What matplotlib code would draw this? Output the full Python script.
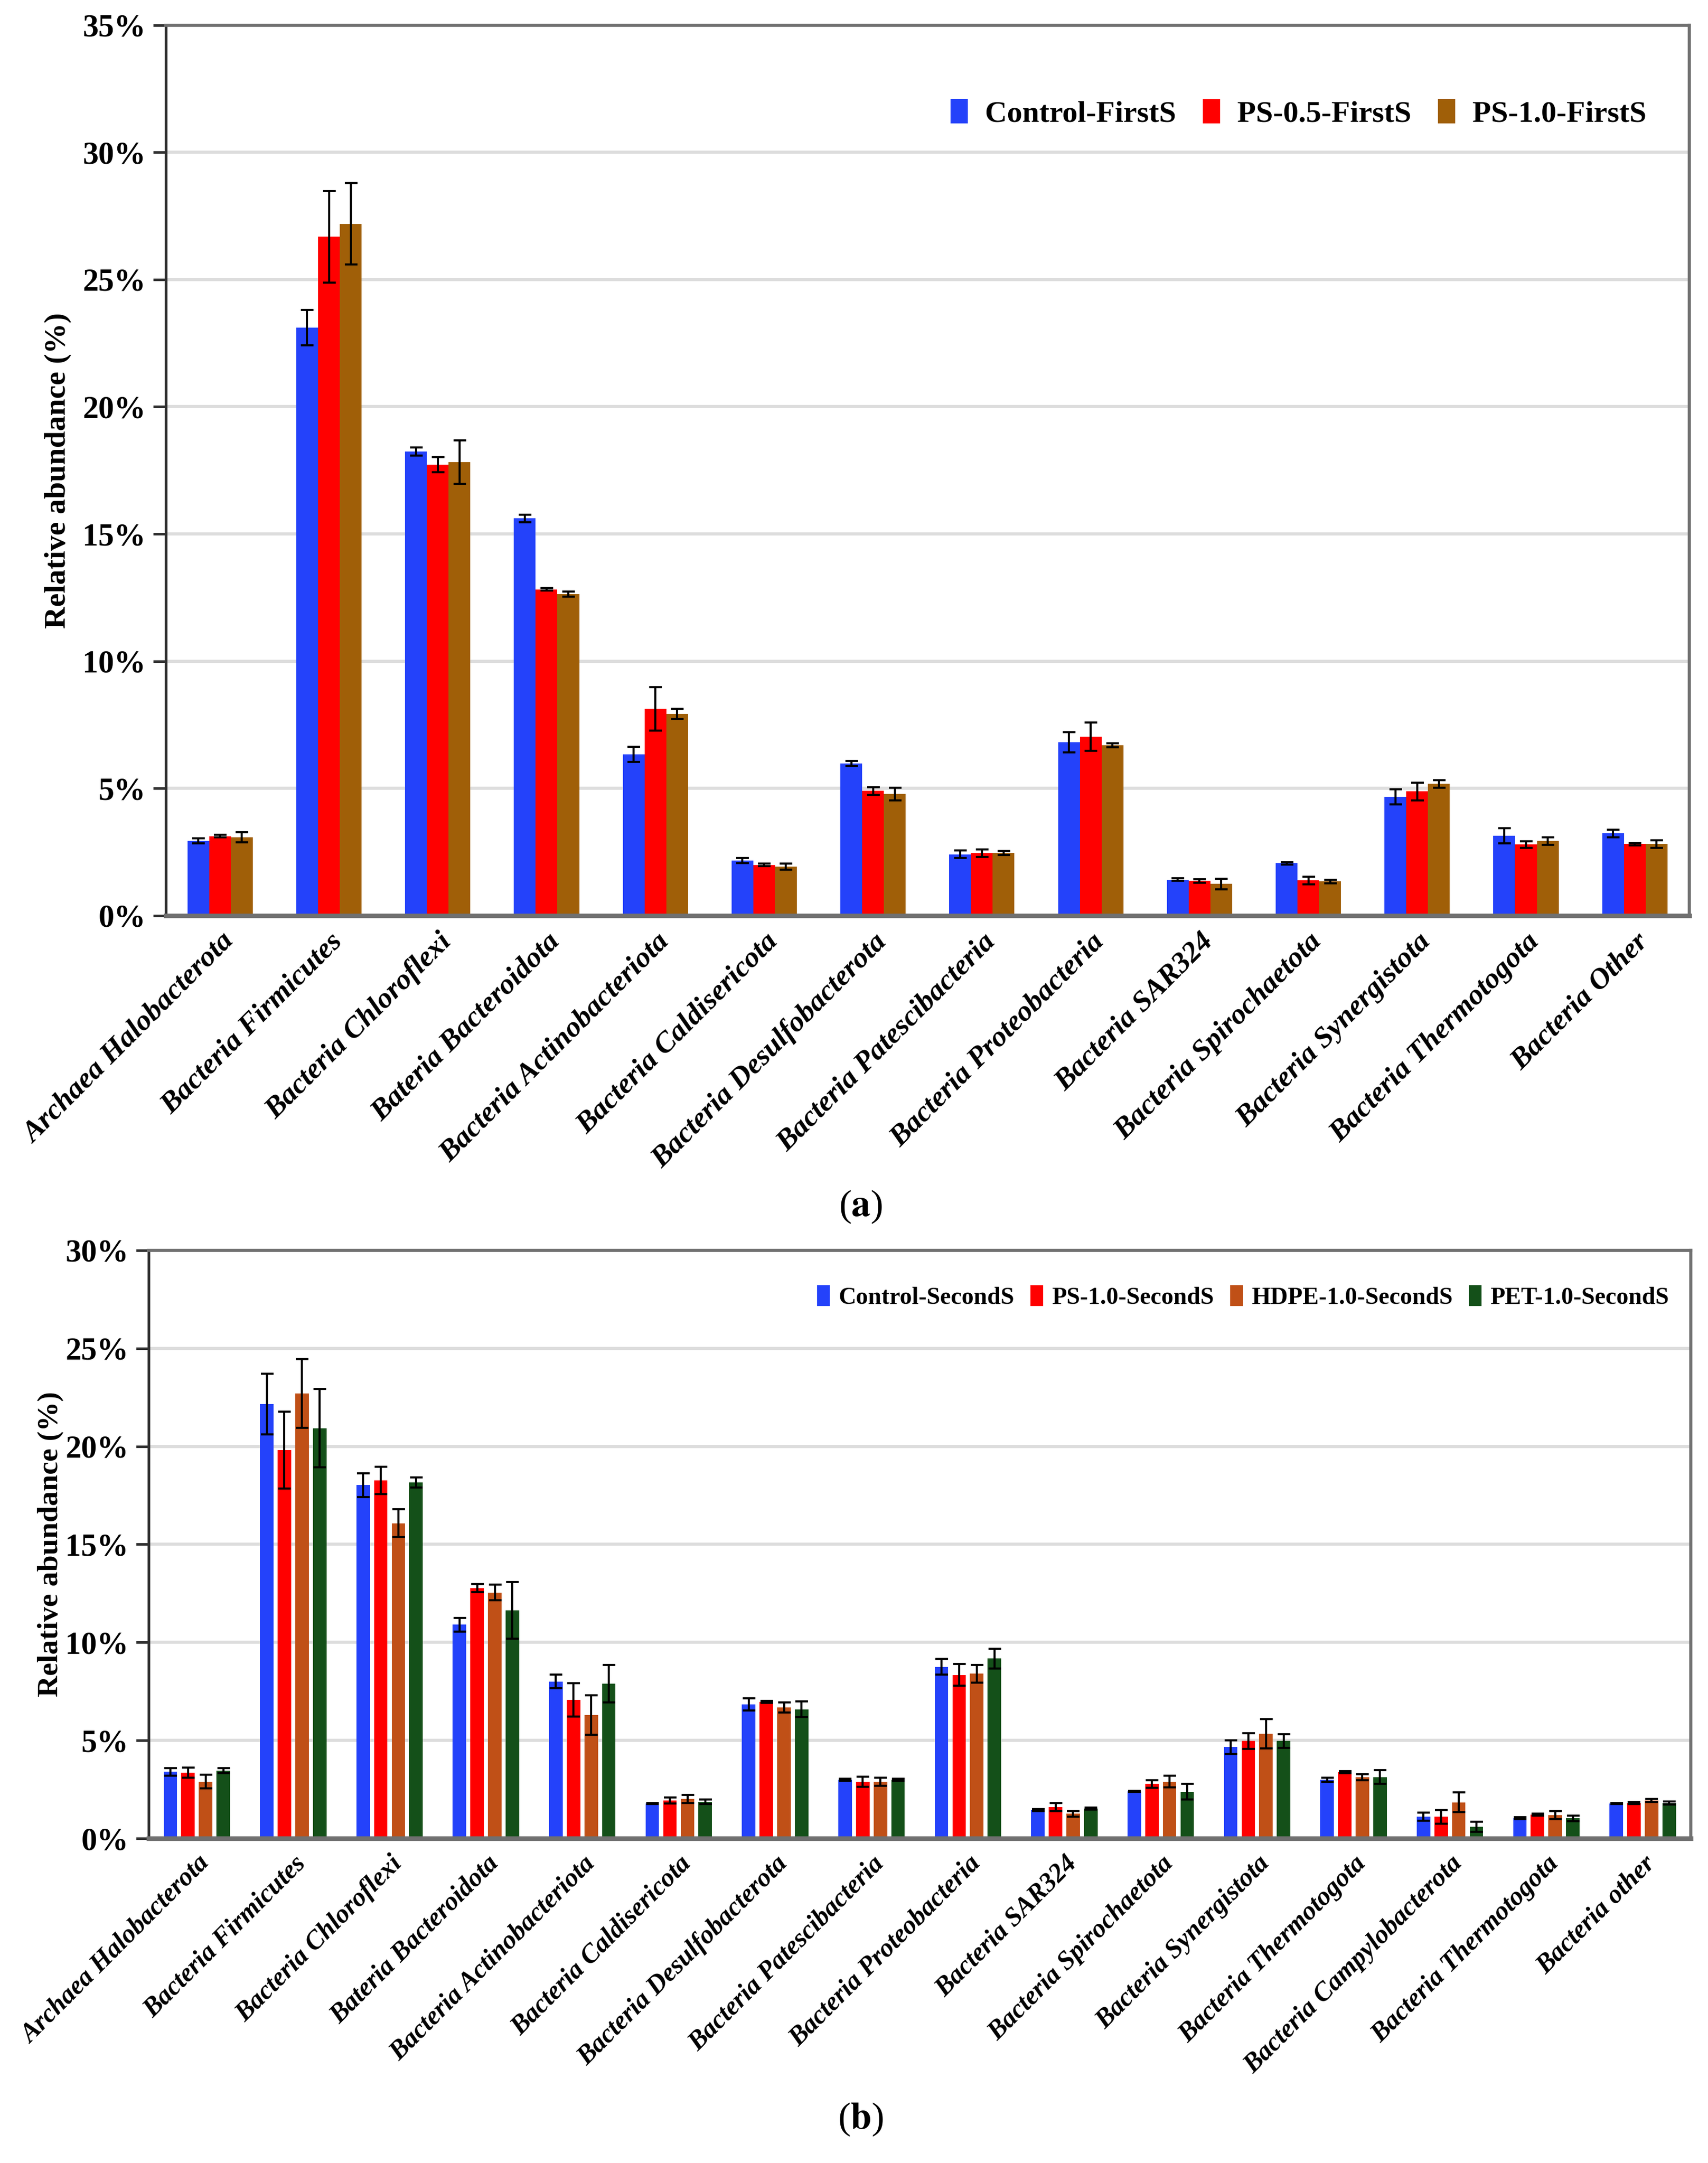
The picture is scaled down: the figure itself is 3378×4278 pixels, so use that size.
import matplotlib
matplotlib.use("Agg")
import matplotlib.pyplot as plt
import numpy as np
from matplotlib.ticker import PercentFormatter
from matplotlib.patches import Patch

FONT = 'Liberation Serif'
plt.rcParams['font.family'] = 'serif'
plt.rcParams['font.serif'] = [FONT, 'DejaVu Serif']
plt.rcParams['mathtext.fontset'] = 'stix'

# ---- panel (a) data ----
cats_a = ['Archaea Halobacterota', 'Bacteria Firmicutes', 'Bacteria Chloroflexi',
          'Bateria Bacteroidota', 'Bacteria Actinobacteriota', 'Bacteria Caldisericota',
          'Bacteria Desulfobacterota', 'Bacteria Patescibacteria', 'Bacteria Proteobacteria',
          'Bacteria SAR324', 'Bacteria Spirochaetota', 'Bacteria Synergistota',
          'Bacteria Thermotogota', 'Bacteria Other']
series_a = ['Control-FirstS', 'PS-0.5-FirstS', 'PS-1.0-FirstS']
control_first = [2.93, 23.11, 18.24, 15.61, 6.33, 2.16, 5.98, 2.41, 6.82, 1.41, 2.06, 4.66, 3.14, 3.23]
ps05_first = [3.12, 26.68, 17.72, 12.82, 8.13, 1.99, 4.90, 2.46, 7.03, 1.36, 1.38, 4.88, 2.79, 2.81]
ps10_first = [3.07, 27.19, 17.82, 12.64, 7.92, 1.92, 4.78, 2.46, 6.70, 1.24, 1.34, 5.18, 2.93, 2.81]
control_first_err = [0.10, 0.70, 0.15, 0.15, 0.30, 0.10, 0.10, 0.15, 0.40, 0.05, 0.05, 0.30, 0.30, 0.15]
ps05_first_err = [0.05, 1.80, 0.30, 0.05, 0.85, 0.05, 0.15, 0.15, 0.55, 0.07, 0.15, 0.35, 0.12, 0.05]
ps10_first_err = [0.20, 1.60, 0.85, 0.10, 0.20, 0.12, 0.25, 0.08, 0.08, 0.20, 0.07, 0.15, 0.15, 0.15]

# ---- panel (b) data ----
cats_b = ['Archaea Halobacterota', 'Bacteria Firmicutes', 'Bacteria Chloroflexi',
          'Bateria Bacteroidota', 'Bacteria Actinobacteriota', 'Bacteria Caldisericota',
          'Bacteria Desulfobacterota', 'Bacteria Patescibacteria', 'Bacteria Proteobacteria',
          'Bacteria SAR324', 'Bacteria Spirochaetota', 'Bacteria Synergistota',
          'Bacteria Thermotogota', 'Bacteria Campylobacterota', 'Bacteria Thermotogota',
          'Bacteria other']
series_b = ['Control-SecondS', 'PS-1.0-SecondS', 'HDPE-1.0-SecondS', 'PET-1.0-SecondS']
control_second = [3.40, 22.15, 18.02, 10.91, 8.01, 1.79, 6.84, 2.99, 8.75, 1.46, 2.41, 4.67, 2.99, 1.11, 1.05, 1.79]
ps10_second = [3.36, 19.81, 18.26, 12.77, 7.06, 1.94, 6.96, 2.90, 8.34, 1.61, 2.78, 4.98, 3.38, 1.11, 1.21, 1.81]
hdpe_second = [2.90, 22.69, 16.08, 12.54, 6.30, 2.02, 6.69, 2.90, 8.40, 1.26, 2.90, 5.35, 3.13, 1.85, 1.19, 1.94]
pet_second = [3.46, 20.92, 18.16, 11.63, 7.89, 1.87, 6.59, 3.00, 9.18, 1.54, 2.39, 4.98, 3.13, 0.60, 1.03, 1.81]
control_second_err = [0.20, 1.55, 0.60, 0.35, 0.35, 0.03, 0.30, 0.05, 0.40, 0.05, 0.03, 0.35, 0.10, 0.20, 0.05, 0.03]
ps10_second_err = [0.25, 1.95, 0.70, 0.20, 0.85, 0.15, 0.05, 0.25, 0.55, 0.20, 0.20, 0.40, 0.05, 0.35, 0.05, 0.05]
hdpe_second_err = [0.35, 1.75, 0.70, 0.40, 1.00, 0.20, 0.25, 0.20, 0.45, 0.15, 0.30, 0.75, 0.15, 0.50, 0.20, 0.08]
pet_second_err = [0.12, 2.00, 0.25, 1.45, 0.95, 0.12, 0.40, 0.05, 0.50, 0.05, 0.40, 0.35, 0.35, 0.25, 0.15, 0.08]

colors_a = ['#2442FA', '#FF0000', '#A05F08']
colors_b = ['#2442FA', '#FF0000', '#C05017', '#145019']


def style_axes(ax, ymax, tick_size, label_size):
    ax.set_ylim(0, ymax)
    ax.set_yticks(np.arange(0, ymax + 0.1, 5))
    ax.yaxis.set_major_formatter(PercentFormatter(decimals=0))
    ax.grid(axis='y', color='#DDDDDD', linewidth=1.5)
    ax.set_axisbelow(True)
    for side in ['top', 'right']:
        ax.spines[side].set_color('#707070')
        ax.spines[side].set_linewidth(1.5)
    ax.spines['left'].set_color('#303030')
    ax.spines['left'].set_linewidth(1.3)
    ax.spines['bottom'].set_color('#707070')
    ax.spines['bottom'].set_linewidth(2.2)
    ax.tick_params(axis='x', length=0, pad=6)
    ax.tick_params(axis='y', length=6, width=1.2, color='#303030')
    for lab in ax.get_yticklabels():
        lab.set_family(FONT)
        lab.set_fontweight('bold')
        lab.set_fontsize(tick_size)
    ax.set_ylabel('Relative abundance (%)', fontsize=label_size, fontweight='bold', family=FONT)


def grouped_bars(ax, cats, series, values, errors, colors, width, pitch, xsize):
    x = np.arange(len(cats))
    n = len(series)
    for i in range(n):
        off = (i - (n - 1) / 2) * pitch
        ax.bar(x + off, values[i], width, color=colors[i], label=series[i], zorder=2)
        ax.errorbar(x + off, values[i], yerr=errors[i], fmt='none', ecolor='black',
                    elinewidth=1.0, capsize=3, capthick=1.0, zorder=3)
    ax.set_xlim(-0.5, len(cats) - 0.5)
    ax.set_xticks(x)
    ax.set_xticklabels(cats, rotation=45, ha='right', rotation_mode='anchor',
                       fontweight='bold', style='italic', family=FONT, fontsize=xsize)


fig = plt.figure(figsize=(3378 / 300, 4278 / 300), dpi=300)

# panel (a)
ax_a = fig.add_axes([0.097, 0.5767, 0.892, 0.4117])
grouped_bars(ax_a, cats_a, series_a,
             [control_first, ps05_first, ps10_first],
             [control_first_err, ps05_first_err, ps10_first_err],
             colors_a, 0.20, 0.20, 14)
style_axes(ax_a, 35, 15, 14.5)
ax_a.yaxis.set_label_coords(-0.062, 0.5)
handles_a = [Patch(color=c, label=s) for c, s in zip(colors_a, series_a)]
ax_a.legend(handles=handles_a, loc='center right', bbox_to_anchor=(0.99, 0.90),
            ncol=3, frameon=False, prop={'family': FONT, 'weight': 'bold', 'size': 14.5},
            handlelength=0.5, handleheight=0.75, handletextpad=0.6, columnspacing=0.9)

# panel (b)
ax_b = fig.add_axes([0.087, 0.150, 0.903, 0.272])
grouped_bars(ax_b, cats_b, series_b,
             [control_second, ps10_second, hdpe_second, pet_second],
             [control_second_err, ps10_second_err, hdpe_second_err, pet_second_err],
             colors_b, 0.14, 0.183, 12.5)
style_axes(ax_b, 30, 15, 14)
ax_b.yaxis.set_label_coords(-0.055, 0.5)
handles_b = [Patch(color=c, label=s) for c, s in zip(colors_b, series_b)]
ax_b.legend(handles=handles_b, loc='center right', bbox_to_anchor=(1.0, 0.919),
            ncol=4, frameon=False, prop={'family': FONT, 'weight': 'bold', 'size': 11.5},
            handlelength=0.45, handleheight=0.8, handletextpad=0.4, columnspacing=0.7)

fig.text(0.504, 0.442, r'($\mathbf{a}$)', ha='center', va='center', fontsize=18)
fig.text(0.504, 0.020, r'($\mathbf{b}$)', ha='center', va='center', fontsize=18)

fig.savefig('out.png', dpi=300, facecolor='white')
